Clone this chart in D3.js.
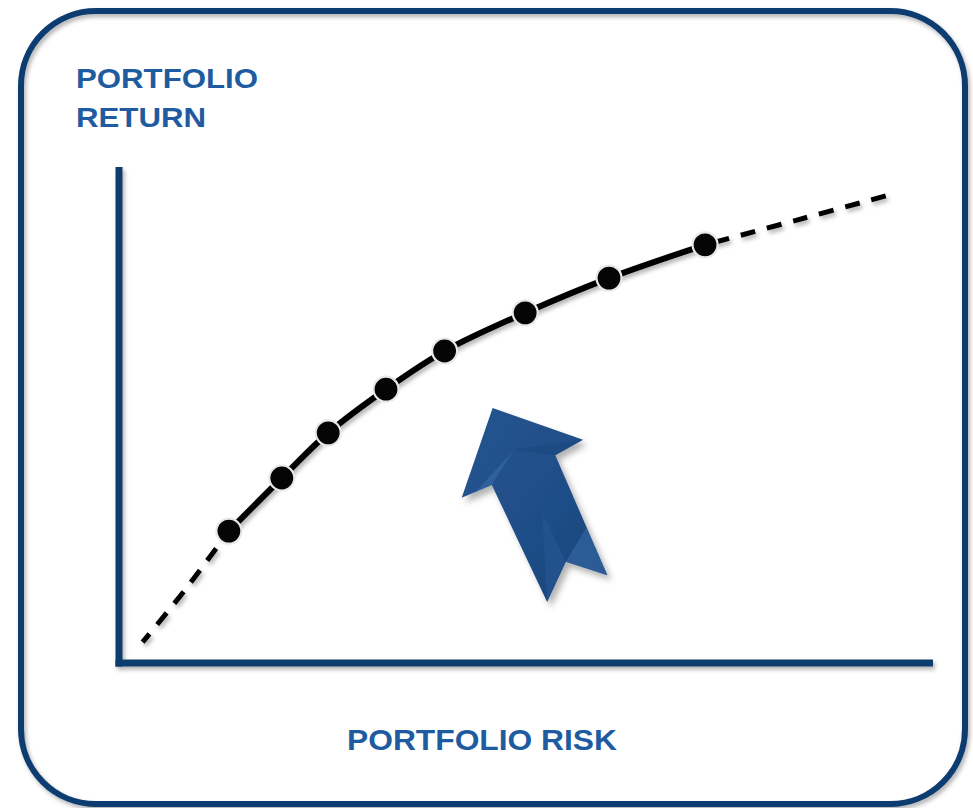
<!DOCTYPE html>
<html><head><meta charset="utf-8">
<script src="https://cdn.jsdelivr.net/npm/d3@7"></script>
<style>html,body{margin:0;padding:0;background:#fff;overflow:hidden;}</style>
</head><body><div id="chart"></div>
<script>
// ---- data (risk on x, return on y, both 0..100 units) ----
const frontierRisk   = [13.5, 20.0, 25.7, 32.8, 40.0, 49.9, 60.2, 72.0];
const frontierReturn = [26.6, 37.3, 46.4, 55.2, 62.9, 70.6, 77.6, 84.3];
const lowerRisk   = [2.9, 8.0, 13.5];
const lowerReturn = [4.2, 14.5, 26.6];
const upperRisk   = [72.0, 83.5, 94.7];
const upperReturn = [84.3, 89.4, 94.4];
// arrow outline (data units)
const arrowRisk   = [45.9, 57.0, 53.6, 60.0, 54.9, 52.6, 45.8, 42.1];
const arrowReturn = [51.4, 45.0, 41.9, 17.7, 20.4, 12.3, 35.9, 33.3];
const yLabelLines = ["PORTFOLIO", "RETURN"];
const xLabelText = "PORTFOLIO RISK";

const W = 973, H = 808;
const svg = d3.select("#chart").append("svg").attr("width", W).attr("height", H);
const defs = svg.append("defs");
const sh = defs.append("filter").attr("id","shadow").attr("x","-20%").attr("y","-20%").attr("width","140%").attr("height","140%");
sh.append("feDropShadow").attr("dx",2).attr("dy",3).attr("stdDeviation",2).attr("flood-color","#000").attr("flood-opacity",0.3);
const sh2 = defs.append("filter").attr("id","shadow2").attr("x","-20%").attr("y","-20%").attr("width","140%").attr("height","140%");
sh2.append("feDropShadow").attr("dx",4).attr("dy",5).attr("stdDeviation",3).attr("flood-color","#000").attr("flood-opacity",0.3);

const grad = defs.append("linearGradient").attr("id","arrowGrad").attr("x1","0").attr("y1","0").attr("x2","1").attr("y2","1");
grad.append("stop").attr("offset","0%").attr("stop-color","#24548e");
grad.append("stop").attr("offset","55%").attr("stop-color","#1f4e88");
grad.append("stop").attr("offset","100%").attr("stop-color","#1a4577");

// frame
svg.append("rect").attr("x",21).attr("y",11).attr("width",944).attr("height",793)
  .attr("rx",75).attr("ry",75).attr("fill","none").attr("stroke","#113d70").attr("stroke-width",6)
  .attr("filter","url(#shadow)");

const x = d3.scaleLinear().domain([0,100]).range([119, 933]);
const y = d3.scaleLinear().domain([0,100]).range([663, 167]);

// axes (plain lines drawn from scale range)
const axisColor = "#113c6d";
const ag = svg.append("g").attr("filter","url(#shadow)");
ag.append("line").attr("x1",x(0)).attr("x2",x(0)).attr("y1",y(100)).attr("y2",y(0)+3.5)
  .attr("stroke",axisColor).attr("stroke-width",7);
ag.append("line").attr("x1",x(0)-3.5).attr("x2",x(100)).attr("y1",y(0)).attr("y2",y(0))
  .attr("stroke",axisColor).attr("stroke-width",7);

// labels
const labelColor = "#1e5ba0";
const font = "Liberation Sans, Arial, sans-serif";
svg.append("text").attr("fill",labelColor).attr("font-family",font)
  .attr("font-weight","bold").attr("font-size",28).attr("x",76).attr("y",88)
  .attr("textLength",182).attr("lengthAdjust","spacingAndGlyphs").text(yLabelLines[0]);
svg.append("text").attr("fill",labelColor).attr("font-family",font)
  .attr("font-weight","bold").attr("font-size",28).attr("x",76).attr("y",127)
  .attr("textLength",130).attr("lengthAdjust","spacingAndGlyphs").text(yLabelLines[1]);
svg.append("text").attr("fill",labelColor).attr("font-family",font)
  .attr("font-weight","bold").attr("font-size",30).attr("x",347).attr("y",750)
  .attr("textLength",270).attr("lengthAdjust","spacingAndGlyphs").text(xLabelText);

// curves
const zip = (a,b) => a.map((v,i)=>[v,b[i]]);
const line = d3.line().x(d=>x(d[0])).y(d=>y(d[1])).curve(d3.curveCatmullRom.alpha(0.5));
const cg = svg.append("g").attr("filter","url(#shadow)");
cg.append("path").attr("d", line(zip(lowerRisk,lowerReturn))).attr("fill","none")
  .attr("stroke","#000").attr("stroke-width",5).attr("stroke-dasharray","15,12").attr("stroke-dashoffset",4);
cg.append("path").attr("d", line(zip(upperRisk,upperReturn))).attr("fill","none")
  .attr("stroke","#000").attr("stroke-width",5).attr("stroke-dasharray","15,12").attr("stroke-dashoffset",-10);
cg.append("path").attr("d", line(zip(frontierRisk,frontierReturn))).attr("fill","none")
  .attr("stroke","#000").attr("stroke-width",6).attr("stroke-linecap","round");

svg.append("g").selectAll("circle").data(zip(frontierRisk,frontierReturn)).join("circle")
  .attr("cx",d=>x(d[0])).attr("cy",d=>y(d[1])).attr("r",12.5)
  .attr("fill","#050505").attr("stroke","#e8e8e8").attr("stroke-width",2.2);

// arrow
const ap = zip(arrowRisk, arrowReturn).map(d=>[x(d[0]), y(d[1])]);
const arrowG = svg.append("g").attr("filter","url(#shadow2)");
arrowG.append("polygon").attr("points", ap.map(p=>p.join(",")).join(" ")).attr("fill","url(#arrowGrad)");
const [tip, rW, rN, tR, tN, tL, lN, lW] = ap;
const mid = (a,b,t)=>[a[0]+(b[0]-a[0])*t, a[1]+(b[1]-a[1])*t];
const fg = svg.append("g");
// subtle light facet on left wing inner
fg.append("polygon").attr("points",[mid(tip,tN,0.28), lN, mid(lW,lN,0.45)].map(p=>p.join(",")).join(" "))
  .attr("fill","#3a6fae").attr("opacity",0.55);
// subtle facet on right wing
fg.append("polygon").attr("points",[rW, rN, mid(tip,tN,0.27)].map(p=>p.join(",")).join(" "))
  .attr("fill","#1a467c").attr("opacity",0.5);
// light facet on tail right prong
fg.append("polygon").attr("points",[tN, tR, mid(rN,tR,0.6)].map(p=>p.join(",")).join(" "))
  .attr("fill","#3a6fae").attr("opacity",0.5);
// lighter inner edge on left tail prong
fg.append("polygon").attr("points",[tN, tL, mid(mid(tip,tN,0.28),tN,0.55)].map(p=>p.join(",")).join(" "))
  .attr("fill","#2a5c98").attr("opacity",0.45);
</script>
</body></html>
